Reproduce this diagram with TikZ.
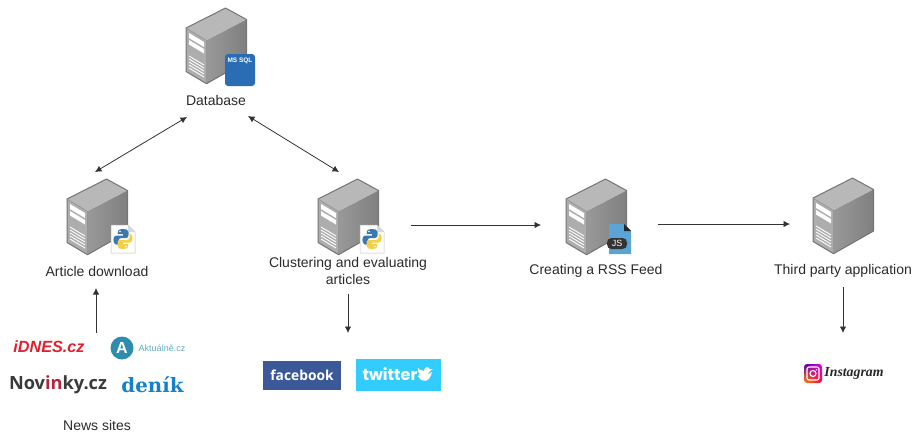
\documentclass[tikz,border=0pt]{standalone}
\usepackage{fontspec}
\setmainfont{Liberation Sans}
\newfontfamily\logoserif{DejaVu Serif}
\newfontfamily\logosans{Open Sans}
\newfontfamily\logoheavy{Poppins}
\newfontfamily\logoscript{Liberation Serif}
\usetikzlibrary{arrows.meta,shadings,calc}
\definecolor{edgegray}{HTML}{757575}
\definecolor{sqlblue}{HTML}{2A6DB5}
\definecolor{jsblue}{HTML}{5BA4D6}
\definecolor{pyblue}{HTML}{3A78AE}
\definecolor{pyyellow}{HTML}{F5CF45}
\definecolor{fbblue}{HTML}{3B5998}
\definecolor{twblue}{HTML}{33CCFF}
\definecolor{idnesred}{HTML}{E2202C}
\definecolor{novgray}{HTML}{3A3A3C}
\definecolor{novred}{HTML}{B5253A}
\definecolor{denikblue}{HTML}{1581C9}
\definecolor{aktteal}{HTML}{2E8CAE}
\definecolor{labelgray}{HTML}{2A2A2A}
\tikzset{
  x=1pt,y=-1pt,
  lbl/.style={font=\fontsize{14}{16.5}\selectfont,text=labelgray,align=center,inner sep=0pt},
  conn/.style={draw=black!80,line width=0.8pt,-{Latex[length=6.5pt,width=6.5pt]}},
  connboth/.style={draw=black!80,line width=0.8pt,{Latex[length=6.5pt,width=6.5pt]}-{Latex[length=6.5pt,width=6.5pt]}},
  slot/.style={fill=white,draw=none},
  pics/server/.style={code={
    \fill[left color=black!40,right color=black!50] (20.5,12.5) -- (60.5,-8.5) -- (60.5,33) -- (20.5,55.7) -- cycle;
    \fill[black!28] (0,0) -- (39.5,-20) -- (60.5,-8.5) -- (20.5,12.5) -- cycle;
    \fill[black!32] (0,0) -- (20.5,12.5) -- (20.5,55.7) -- (0,43.5) -- cycle;
    \draw[edgegray,line width=1pt,line join=round] (0,0) -- (39.5,-20) -- (60.5,-8.5) -- (60.5,33) -- (20.5,55.7) -- (0,43.5) -- cycle;
    \draw[black!45,line width=0.5pt] (0,0) -- (20.5,12.5) -- (20.5,55.7);
    \fill[slot] (3,5) -- (18,14) -- (18,19) -- (3,10) -- cycle;
    \fill[slot] (3,12) -- (18,21) -- (18,25.5) -- (3,16.5) -- cycle;
    \foreach \yy in {28,31,34,37,40}{
      \draw[white,line width=0.9pt] (3,\yy) -- (18,{\yy+9});
    }
  }},
  pics/pydoc/.style={code={
    \fill[white,draw=black!25,line width=0.5pt] (0,0) -- (17,0) -- (24,7) -- (24,28) -- (0,28) -- cycle;
    \fill[black!15] (17,0) -- (24,7) -- (17,7) -- cycle;
    \fill[pyblue] (12,4) .. controls (7,4) and (6.5,6) .. (6.5,9) -- (12,9) -- (12,10.5) -- (5,10.5) .. controls (1.5,10.5) and (1.5,19) .. (5,19.5) -- (7.5,19.5) -- (7.5,15.5) .. controls (8,13.5) and (9,13) .. (11,13) -- (15,13) .. controls (17,13) and (17.5,12) .. (17.5,10) -- (17.5,7) .. controls (17.5,4.5) and (15,4) .. (12,4) -- cycle;
    \fill[pyyellow] (12,24) .. controls (17,24) and (17.5,22) .. (17.5,19) -- (12,19) -- (12,17.5) -- (19,17.5) .. controls (22.5,17.5) and (22.5,9) .. (19,8.5) -- (18.5,8.5) -- (18.5,12.5) .. controls (18,14.5) and (17,15) .. (15,15) -- (9,15) .. controls (7,15) and (6.5,16) .. (6.5,18) -- (6.5,21) .. controls (6.5,23.5) and (9,24) .. (12,24) -- cycle;
    \fill[white] (9,6.5) circle (0.9);
    \fill[white] (15,21.5) circle (0.9);
  }}
}
\begin{document}
\begin{tikzpicture}
\useasboundingbox (0,0) rectangle (912,432);
% servers
\pic at (186,28) {server};
\pic at (67,199) {server};
\pic at (318,199) {server};
\pic at (566,199) {server};
\pic at (813,198) {server};
% MS SQL badge
\node[fill=sqlblue,rounded corners=3pt,minimum width=30pt,minimum height=32pt,inner sep=0pt] (sqlbadge) at (240,70) {};
\node[font=\bfseries\fontsize{6.5}{7}\selectfont,text=white,inner sep=0pt] (sqltext) at (240,60.5) {MS SQL};
% python docs
\pic at (111,225) {pydoc};
\pic at (360,225) {pydoc};
% JS doc
\fill[jsblue] (609,224) -- (624,224) -- (631,231) -- (631,254) -- (609,254) -- cycle;
\fill[black!85] (624,224) -- (631,231) -- (624,231) -- cycle;
\node[fill=black!80,rounded corners=4.5pt,minimum width=20pt,minimum height=11pt,inner sep=0pt,text=white,font=\fontsize{9}{10}\selectfont] (jstag) at (617,243.5) {JS};
% labels
\node[lbl] (db) at (216,100.5) {Database};
\node[lbl] (art) at (97,271) {Article download};
\node[lbl] (clu) at (348,271) {Clustering and evaluating\\articles};
\node[lbl] (rss) at (596,270.5) {Creating a RSS Feed};
\node[lbl] (tpa) at (843,271) {Third party application};
\node[lbl] (news) at (97,425) {News sites};
% logos
\node[font=\bfseries\itshape\fontsize{16.2}{18}\selectfont,text=idnesred,inner sep=0pt] (idnes) at (49,347) {iDNES.cz};
\fill[aktteal] (122,348) circle (11.5);
\node[font=\bfseries\fontsize{16}{16}\selectfont,text=white,inner sep=0pt] (aktA) at (122,347.5) {A};
\node[font=\fontsize{9}{10}\selectfont,text=aktteal!75,inner sep=0pt] (akt) at (162,348.5) {Aktuálně.cz};
\node[font=\logosans\bfseries\fontsize{18.2}{20}\selectfont,text=novgray,inner sep=0pt] (nov) at (58,385) {Nov\textcolor{novred}{in}ky.cz};
\node[font=\logoserif\bfseries\fontsize{19.8}{21}\selectfont,text=denikblue,inner sep=0pt] (den) at (152.5,385) {deník};
\node[fill=fbblue,minimum width=78pt,minimum height=29pt,inner sep=0pt,text=white,font=\logosans\bfseries\fontsize{13.8}{16}\selectfont] (fb) at (302,375.5) {facebook};
\node[fill=twblue,minimum width=85pt,minimum height=32pt,inner sep=0pt] (tw) at (398.5,375) {};
\node[text=white,font=\logoheavy\bfseries\fontsize{16}{17}\selectfont,inner sep=0pt] (twt) at (390,374.5) {twitter};
\fill[white] (418,375) .. controls (421,379) and (428,378) .. (429,372) .. controls (430,371) and (433,369) .. (433,369) .. controls (431,369.5) and (430,369) .. (430,369) .. controls (428,366) and (424,367) .. (424,371) .. controls (421,371) and (419,369) .. (418,368) .. controls (417,371) and (418,372) .. (420,374) -- cycle;
\fill[white] (418,376) .. controls (422,384) and (430,382) .. (432,372) -- (425,376) -- cycle;
% instagram
\shade[rounded corners=3pt,lower left=orange!90!yellow,lower right=red!80!magenta,upper left=violet!70!blue,upper right=magenta!80!violet] (804,364) rectangle (822,383);
\draw[white,line width=1.1pt,rounded corners=2pt] (807,367) rectangle (819,380);
\draw[white,line width=1.1pt] (813,373.5) circle (3);
\fill[white] (816.6,369.8) circle (0.8);
\node[font=\logoscript\itshape\bfseries\fontsize{13.8}{15}\selectfont,text=black!85,inner sep=0pt] (ig) at (854,373) {Instagram};
% connector ends
\coordinate (dbL) at (187,117);
\coordinate (dbR) at (248,116);
\coordinate (artT) at (95,172);
\coordinate (cluT) at (339,172);
\coordinate (artB) at (96,288);
\coordinate (newsT) at (96,333);
\coordinate (cluR) at (411,225);
\coordinate (rssL) at (541,225);
\coordinate (rssR) at (658,224);
\coordinate (tpaL) at (790,224);
\coordinate (cluB) at (348,294);
\coordinate (socT) at (348,333);
\coordinate (tpaB) at (843,287);
\coordinate (igT) at (843,333);
\draw[connboth] (dbL) -- (artT);
\draw[connboth] (dbR) -- (cluT);
\draw[conn] (newsT) -- (artB);
\draw[conn] (cluR) -- (rssL);
\draw[conn] (rssR) -- (tpaL);
\draw[conn] (cluB) -- (socT);
\draw[conn] (tpaB) -- (igT);
\end{tikzpicture}
\end{document}
